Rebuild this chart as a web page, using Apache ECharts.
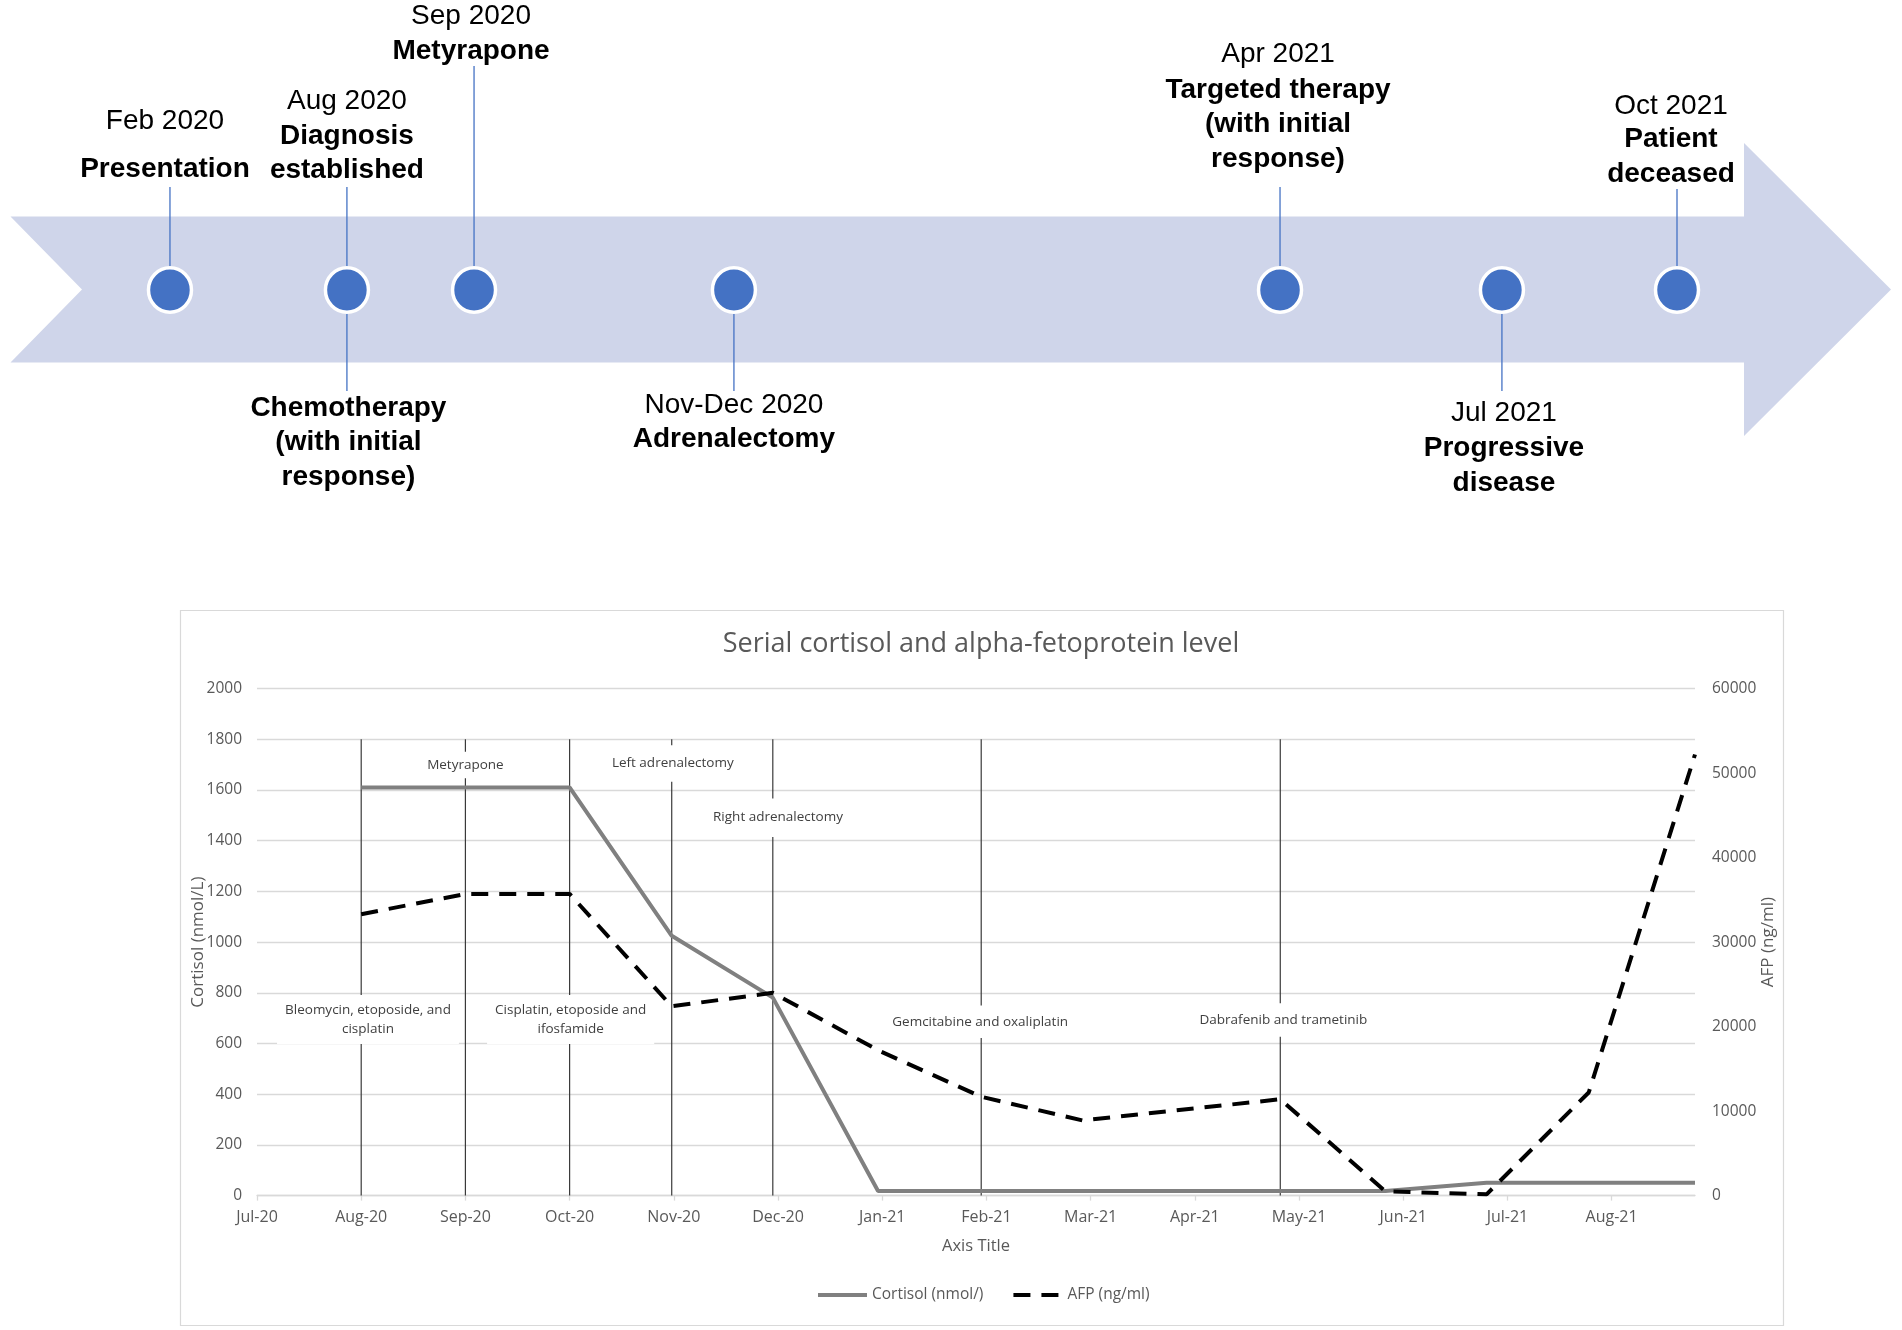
<!DOCTYPE html>
<html>
<head>
<meta charset="utf-8">
<script src="https://cdn.jsdelivr.net/npm/echarts@6/dist/echarts.min.js"></script>
<style>
html,body{margin:0;padding:0;background:#ffffff;}
#c{width:1902px;height:1330px;}
</style>
</head>
<body>
<div id="c"></div>
<script>
// ================= DATA =================
// Chart: x in months counted from the "Jul-20" tick
const monthTickLabels = ['Jul-20','Aug-20','Sep-20','Oct-20','Nov-20','Dec-20','Jan-21','Feb-21','Mar-21','Apr-21','May-21','Jun-21','Jul-21','Aug-21'];
const sampleMonths   = [1.0, 2.0, 3.0, 3.98, 4.95, 5.96, 6.95, 7.92, 9.82, 10.83, 11.8, 12.78, 13.8];
const cortisolValues = [1610, 1610, 1610, 1025, 781, 18, 18, 18, 18, 18, 51, 51, 51];
const afpValues      = [33300, 35700, 35700, 22400, 24000, 17200, 11700, 8900, 11400, 500, 150, 12200, 52200];
const eventLineMonths = [1.0, 2.0, 3.0, 3.98, 4.95, 6.95, 9.82];
const noteTexts = ['Metyrapone', 'Left adrenalectomy', 'Right adrenalectomy',
  'Bleomycin, etoposide, and\ncisplatin', 'Cisplatin, etoposide and\nifosfamide',
  'Gemcitabine and oxaliplatin', 'Dabrafenib and trametinib'];
const noteMonths   = [2.0, 3.99, 5.0, 1.065, 3.01, 6.94, 9.85];
const noteCortisol = [1699, 1705, 1491, 695, 695, 686, 693];
const cortisolName = 'Cortisol (nmol/)';
const afpName = 'AFP (ng/ml)';

// Timeline: dot positions along the arrow (percent of arrow length)
const timelineDotPos = [8.48, 17.89, 24.65, 38.47, 67.51, 79.31, 88.62];
const timelineLabelDot  = [0, 1, 1, 2, 3, 4, 5, 6];
const timelineLabelDate = ['Feb 2020', 'Aug 2020', '', 'Sep 2020', 'Nov-Dec 2020', 'Apr 2021', 'Jul 2021', 'Oct 2021'];
const timelineLabelText = ['Presentation', 'Diagnosis\nestablished', 'Chemotherapy\n(with initial\nresponse)',
  'Metyrapone', 'Adrenalectomy', 'Targeted therapy\n(with initial\nresponse)', 'Progressive\ndisease', 'Patient\ndeceased'];

// ================= LAYOUT / STYLE =================
const W = 1902, H = 1330;
const arrowLeft = 10.5, arrowRight = 1891;
const dotY = 290;
// per timeline label: stem end y, date line centre y, first text line centre y, x shift
const tlLayout = [
  {stem: 187, dateY: 121.7, textY: 169.2, dx: -5},
  {stem: 187, dateY: 101.2, textY: 136.0, dx: 0},
  {stem: 391, dateY: null,  textY: 408.0, dx: 1.5},
  {stem: 66,  dateY: 16.6,  textY: 51.4,  dx: -3},
  {stem: 391, dateY: 405.3, textY: 439.5, dx: 0},
  {stem: 187, dateY: 54.7,  textY: 90.2,  dx: -2},
  {stem: 391, dateY: 413.0, textY: 448.4, dx: 2},
  {stem: 189, dateY: 106.1, textY: 139.3, dx: -6}
];
const noteLayout = [
  {pad: [4, 6]}, {pad: [9, 6]}, {pad: [10, 6]}, {pad: [6, 8]}, {pad: [6, 8]}, {pad: [7, 6]}, {pad: [7.5, 6]}
];
const tlFont = '"Liberation Sans", Arial, sans-serif';
const chFont = '"Open Sans", "Noto Sans", sans-serif';
const lineH = 34.5;
const gridL = 257, gridR = 1695, gridT = 688.6, gridB = 1195.6;

const chart = echarts.init(document.getElementById('c'), null, {renderer: 'canvas', width: W, height: H});

const plain = v => String(v);

const option = {
  animation: false,
  backgroundColor: '#ffffff',
  textStyle: {fontFamily: chFont},
  graphic: [
    { type: 'polygon', z: 0, silent: true,
      shape: { points: [[arrowLeft, 216.5], [1744, 216.5], [1744, 143], [arrowRight, 289.5], [1744, 436], [1744, 362.5], [arrowLeft, 362.5], [82, 289.5]] },
      style: { fill: '#CFD5EA' } },
    { type: 'rect', z: 0, silent: true,
      shape: { x: 180.5, y: 610.5, width: 1603, height: 715 },
      style: { fill: 'none', stroke: '#D9D9D9', lineWidth: 1.2 } },
    { type: 'text', z: 10, silent: true, x: 981, y: 644.5,
      style: { text: 'Serial cortisol and alpha-fetoprotein level', fill: '#595959', font: '27px ' + chFont, align: 'center', verticalAlign: 'middle' } }
  ],
  grid: [
    { left: arrowLeft, width: arrowRight - arrowLeft, top: 0, height: 2 * dotY },
    { left: gridL, width: gridR - gridL, top: gridT, height: gridB - gridT }
  ],
  xAxis: [
    { gridIndex: 0, type: 'value', min: 0, max: 100, show: false },
    { gridIndex: 1, type: 'value', min: 0, max: 13.8, interval: 1,
      axisLine: { show: true, lineStyle: { color: '#D9D9D9', width: 1.3 } },
      axisTick: { show: true, length: 5, lineStyle: { color: '#D9D9D9', width: 1.3 },
        customValues: monthTickLabels.map((_, i) => i) },
      axisLabel: { color: '#595959', fontSize: 16, margin: 14, fontFamily: chFont,
        customValues: monthTickLabels.map((_, i) => i),
        formatter: v => monthTickLabels[Math.round(v)] || '' },
      splitLine: { show: false },
      name: 'Axis Title', nameLocation: 'middle', nameGap: 42, nameMoveOverlap: false,
      nameTextStyle: { color: '#595959', fontSize: 16.5, fontFamily: chFont } }
  ],
  yAxis: [
    { gridIndex: 0, type: 'value', min: 0, max: 1, show: false, inverse: true },
    { gridIndex: 1, type: 'value', min: 0, max: 2000, interval: 200, position: 'left',
      axisLine: { show: false }, axisTick: { show: false },
      axisLabel: { color: '#595959', fontSize: 15.5, margin: 15, fontFamily: chFont, formatter: plain },
      splitLine: { show: true, lineStyle: { color: '#D9D9D9', width: 1.3 } },
      name: 'Cortisol (nmol/L)', nameLocation: 'middle', nameGap: 50, nameRotate: 90, nameMoveOverlap: false,
      nameTextStyle: { color: '#595959', fontSize: 17, fontFamily: chFont } },
    { gridIndex: 1, type: 'value', min: 0, max: 60000, interval: 10000, position: 'right',
      axisLine: { show: false }, axisTick: { show: false },
      axisLabel: { color: '#595959', fontSize: 15.5, margin: 17, fontFamily: chFont, formatter: plain },
      splitLine: { show: false },
      name: 'AFP (ng/ml)', nameLocation: 'middle', nameGap: 65, nameRotate: 90, nameMoveOverlap: false,
      nameTextStyle: { color: '#595959', fontSize: 17, fontFamily: chFont } }
  ],
  legend: {
    data: [cortisolName, afpName], left: 811, top: 1282, itemWidth: 49, itemHeight: 14, itemGap: 28,
    itemStyle: { opacity: 0 },
    lineStyle: { width: 4 },
    textStyle: { color: '#595959', fontSize: 15.5, fontFamily: chFont }
  },
  series: [
    // timeline stems + texts
    { type: 'custom', xAxisIndex: 0, yAxisIndex: 0, z: 1, silent: true,
      data: timelineLabelDot.map((d, i) => [timelineDotPos[d], 0.5, i]),
      renderItem: function (params, api) {
        const i = api.value(2);
        const p = api.coord([api.value(0), api.value(1)]);
        const L = tlLayout[i];
        const children = [
          { type: 'line', shape: { x1: p[0], y1: p[1], x2: p[0], y2: L.stem },
            style: { stroke: '#4472C4', lineWidth: 1.3 } }
        ];
        if (timelineLabelDate[i]) {
          children.push({ type: 'text', x: p[0] + L.dx, y: L.dateY,
            style: { text: timelineLabelDate[i], fill: '#000', font: '28px ' + tlFont, align: 'center', verticalAlign: 'middle' } });
        }
        children.push({ type: 'text', x: p[0] + L.dx, y: L.textY - lineH / 2,
          style: { text: timelineLabelText[i], fill: '#000', font: 'bold 28px ' + tlFont, lineHeight: lineH, align: 'center', verticalAlign: 'top' } });
        return { type: 'group', children: children };
      } },
    // timeline dots
    { type: 'custom', xAxisIndex: 0, yAxisIndex: 0, z: 3, silent: true,
      data: timelineDotPos.map(v => [v, 0.5]),
      renderItem: function (params, api) {
        const p = api.coord([api.value(0), api.value(1)]);
        return { type: 'ellipse', shape: { cx: p[0], cy: p[1], rx: 21.5, ry: 22.2 },
          style: { fill: '#4472C4', stroke: '#ffffff', lineWidth: 3.5 } };
      } },
    // vertical event lines
    { type: 'custom', xAxisIndex: 1, yAxisIndex: 1, z: 2, silent: true,
      data: eventLineMonths.map(m => [m]),
      renderItem: function (params, api) {
        const a = api.coord([api.value(0), 1800]);
        const b = api.coord([api.value(0), 0]);
        return { type: 'line', shape: { x1: a[0], y1: a[1], x2: b[0], y2: b[1] },
          style: { stroke: '#3A3A3A', lineWidth: 1.2 } };
      } },
    // annotation text boxes
    { type: 'custom', xAxisIndex: 1, yAxisIndex: 1, z: 3, silent: true,
      data: noteMonths.map((m, i) => [m, noteCortisol[i], i]),
      renderItem: function (params, api) {
        const i = api.value(2);
        const p = api.coord([api.value(0), api.value(1)]);
        return { type: 'text', x: p[0], y: p[1],
          style: { text: noteTexts[i], fill: '#404040', font: '13.5px ' + chFont, lineHeight: 18.5,
            align: 'center', verticalAlign: 'middle', backgroundColor: '#ffffff', padding: noteLayout[i].pad } };
      } },
    { name: cortisolName, type: 'line', xAxisIndex: 1, yAxisIndex: 1, z: 5,
      data: sampleMonths.map((m, i) => [m, cortisolValues[i]]),
      symbol: 'none', showSymbol: false,
      lineStyle: { color: '#808080', width: 4 }, itemStyle: { color: '#808080' } },
    { name: afpName, type: 'line', xAxisIndex: 1, yAxisIndex: 2, z: 6,
      data: sampleMonths.map((m, i) => [m, afpValues[i]]),
      symbol: 'none', showSymbol: false,
      lineStyle: { color: '#000000', width: 4, type: [17, 11] }, itemStyle: { color: '#000000' } }
  ]
};
chart.setOption(option);
</script>
</body>
</html>
